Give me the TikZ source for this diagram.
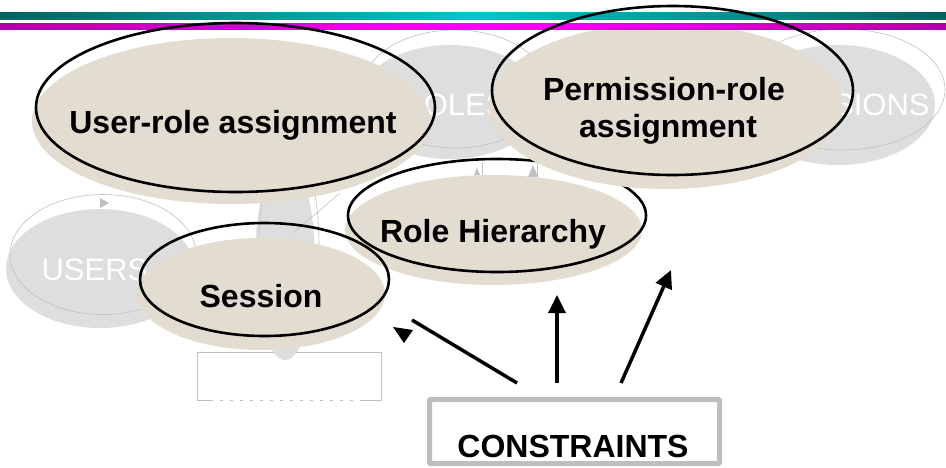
\documentclass[tikz,border=0pt]{standalone}
\usepackage{fontspec}
\setmainfont{Liberation Sans}
\usetikzlibrary{arrows.meta}

\definecolor{cTealDark}{RGB}{0,98,98}
\definecolor{cTealBright}{RGB}{0,198,198}
\definecolor{cMagDark}{RGB}{172,0,168}
\definecolor{cMagBright}{RGB}{255,0,255}
\definecolor{cLinen}{RGB}{227,220,208}
\definecolor{cGhost}{RGB}{222,222,222}
\definecolor{cGhostLine}{RGB}{192,192,192}
\definecolor{cFrame}{RGB}{190,190,190}

\tikzset{
  cardfill/.style={fill=cLinen},
  cardline/.style={draw=black, line width=2.6pt},
  ghostfill/.style={fill=cGhost},
  ghostline/.style={draw=cGhostLine, line width=0.6pt},
  cardtext/.style={font=\fontsize{32}{37}\selectfont\bfseries, anchor=base, inner sep=0pt},
  ghosttext/.style={font=\fontsize{31}{36}\selectfont, text=white, anchor=base, inner sep=0pt},
  link/.style={line width=3.5pt},
  linkarrow/.style={link, -{Triangle[length=18pt,width=17pt]}},
}

\begin{document}
\begin{tikzpicture}[x=1pt,y=-1pt]
\useasboundingbox (0,0) rectangle (946,467);
\clip (0,0) rectangle (946,467);

% faded background model: users, roles, permissions, sessions
\fill[ghostfill] (100,268.5) ellipse [x radius=94pt, y radius=59.5pt];
\draw[ghostline] (103,254.5) ellipse [x radius=93pt, y radius=60pt];
\fill[cGhostLine] (100,198) -- (109,203) -- (100,208) -- cycle;
\node[ghosttext] (t-users) at (95,280) {USERS};

\fill[ghostfill] (450,102) ellipse [x radius=92pt, y radius=57pt];
\draw[ghostline] (455,89) ellipse [x radius=93pt, y radius=59pt];
\node[ghosttext] (t-roles) at (454,115) {ROLES};

\fill[ghostfill] (838,105) ellipse [x radius=97pt, y radius=60pt];
\draw[ghostline] (843,89.5) ellipse [x radius=102pt, y radius=60.5pt];
\node[ghosttext] (t-perms) at (822,115) {PERMISSIONS};

\draw[ghostline, fill=white] (197,352) rectangle (381,400);
\draw[white, line width=1.2pt, dash pattern=on 7pt off 3pt] (213,400) -- (363,400);

\fill[ghostfill] (285,260) ellipse [x radius=30pt, y radius=100pt];
\draw[ghostline] (289,245) ellipse [x radius=30pt, y radius=100pt];
\draw[ghostline] (293,233) -- (340,193);

\draw[ghostline] (482,163) -- (482,177);
\draw[ghostline] (537,161) -- (537,177);
\fill[cGhostLine] (474,175) -- (477,168) -- (480,175) -- cycle;
\fill[cGhostLine] (528,177) -- (533,165) -- (538,177) -- cycle;

% role hierarchy
\fill[cardfill] (493.5,230) ellipse [x radius=148.5pt, y radius=55pt];
\draw[cardline] (497,215.5) ellipse [x radius=149pt, y radius=56.5pt];
\node[cardtext] (t-rh) at (493,242) {Role Hierarchy};

% session
\fill[cardfill] (261,294) ellipse [x radius=124pt, y radius=56pt];
\draw[cardline] (264.5,279.5) ellipse [x radius=124.5pt, y radius=56.5pt];
\node[cardtext] (t-ses) at (261,307) {Session};

% user-role and permission-role assignment fills
\fill[cardfill] (231,121) ellipse [x radius=199pt, y radius=83pt];
\fill[cardfill] (666,106) ellipse [x radius=177pt, y radius=83pt];

% title bars
\shade[left color=cTealDark, right color=cTealDark, middle color=cTealBright] (0,12) rectangle (946,19);
\shade[left color=cMagDark, right color=cMagDark, middle color=cMagBright] (0,23) rectangle (946,29);

% assignment outlines and labels
\draw[cardline] (235.5,107.5) ellipse [x radius=199.5pt, y radius=84.5pt];
\node[cardtext] (t-ur) at (233,133) {User-role assignment};
\draw[cardline] (672.5,90.5) ellipse [x radius=180.5pt, y radius=84.5pt];
\node[cardtext] (t-pr1) at (664,100) {Permission-role};
\node[cardtext] (t-pr2) at (668,137) {assignment};

% constraints box
\draw[draw=cFrame, line width=5pt, fill=white, rounded corners=1pt] (429.5,399.5) rectangle (719.5,463.5);
\node[cardtext] (t-con) at (573,457) {CONSTRAINTS};

% constraint connectors
\coordinate (a1s) at (517,383);
\coordinate (a1e) at (412,320);
\coordinate (a2s) at (557,383);
\coordinate (a2e) at (557,295);
\coordinate (a3s) at (621,383);
\coordinate (a3e) at (671,270);
\draw[link] (a1s) -- (a1e);
\fill (393,327) -- (413,330) -- (404,343) -- cycle;
\draw[linkarrow] (a2s) -- (a2e);
\draw[linkarrow] (a3s) -- (a3e);
\end{tikzpicture}
\end{document}
